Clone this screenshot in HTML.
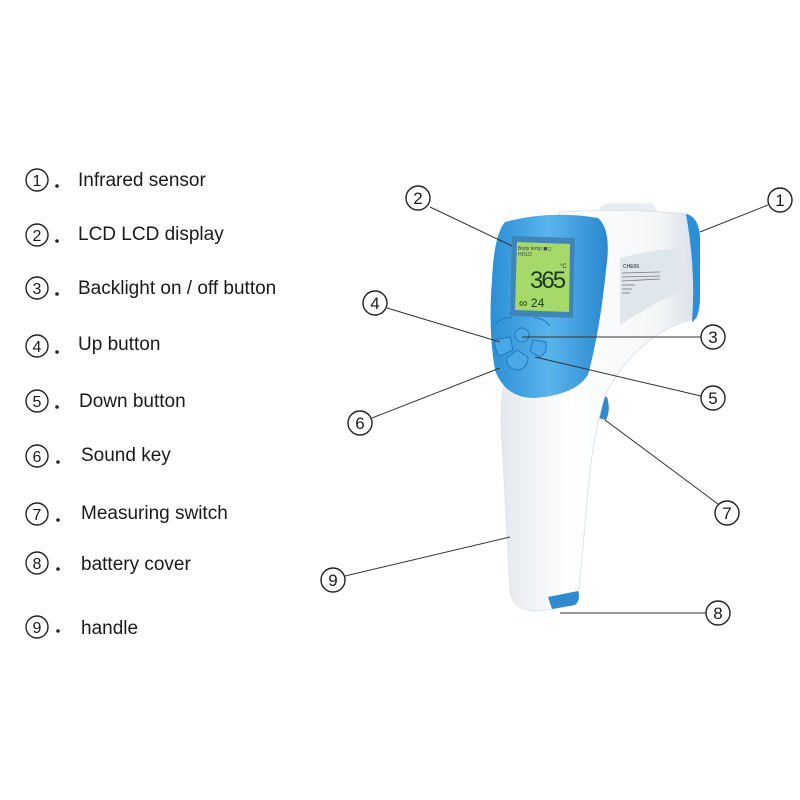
<!DOCTYPE html>
<html><head><meta charset="utf-8"><style>
html,body{margin:0;padding:0;background:#fff;width:800px;height:800px;overflow:hidden}
svg{display:block}
text{font-family:"Liberation Sans",Arial,sans-serif;fill:#1a1a1a}
</style></head><body>
<svg width="800" height="800" viewBox="0 0 800 800" xmlns="http://www.w3.org/2000/svg">
<defs>
<linearGradient id="bl" x1="0" x2="1"><stop offset="0" stop-color="#2a8fd6"/><stop offset="0.5" stop-color="#5ab4ec"/><stop offset="1" stop-color="#2a88d0"/></linearGradient>
<linearGradient id="wh" x1="0" x2="1"><stop offset="0" stop-color="#e4e9ee"/><stop offset="0.35" stop-color="#ffffff"/><stop offset="0.8" stop-color="#f4f6f8"/><stop offset="1" stop-color="#d8dfe6"/></linearGradient>
</defs>
<g font-size="19">
<g stroke="#222" stroke-width="1.4" fill="none">
<circle cx="37" cy="180" r="11"/><circle cx="37" cy="235" r="11"/><circle cx="37" cy="288" r="11"/>
<circle cx="37" cy="346" r="11"/><circle cx="37" cy="401" r="11"/><circle cx="37" cy="456" r="11"/>
<circle cx="37" cy="514" r="11"/><circle cx="37" cy="563" r="11"/><circle cx="37" cy="627" r="11"/>
</g>
<g font-size="16" text-anchor="middle">
<text x="37" y="186">1</text><text x="37" y="241">2</text><text x="37" y="294">3</text>
<text x="37" y="352">4</text><text x="37" y="407">5</text><text x="37" y="462">6</text>
<text x="37" y="520">7</text><text x="37" y="569">8</text><text x="37" y="633">9</text>
</g>
<g fill="#222"><circle cx="57" cy="186" r="1.8"/><circle cx="57" cy="241" r="1.8"/><circle cx="57" cy="294" r="1.8"/><circle cx="57" cy="352" r="1.8"/><circle cx="57" cy="407" r="1.8"/><circle cx="58" cy="462" r="1.8"/><circle cx="58" cy="520" r="1.8"/><circle cx="58" cy="569" r="1.8"/><circle cx="58" cy="631" r="1.8"/></g>
<text x="78" y="186">Infrared sensor</text>
<text x="78" y="240">LCD LCD display</text>
<text x="78" y="294">Backlight on / off button</text>
<text x="78" y="350">Up button</text>
<text x="79" y="407">Down button</text>
<text x="81" y="461">Sound key</text>
<text x="81" y="519">Measuring switch</text>
<text x="81" y="570">battery cover</text>
<text x="81" y="634">handle</text>
</g>

<path d="M598 212 Q600 203 612 203 L648 203 Q656 204 658 214 Z" fill="#e8edf1"/>
<path d="M598 395 L607 397 Q611 410 606 420 L598 418 Z" fill="#2f8ad0"/>
<path d="M560 212 Q630 208 688 214 L698 318 Q640 330 605 395 Q592 440 587 500 Q582 560 578 596 Q568 610 535 611 Q512 610 510 590 Q506 520 502 440 Q498 400 510 360 Z" fill="url(#wh)" stroke="#dde3e9" stroke-width="1"/>
<path d="M548 597 L578 591 Q581 600 575 605 L552 609 Z" fill="#2f8ad0"/>
<path d="M686 214 Q698 216 700 236 L700 300 Q699 318 692 322 Q696 270 686 214 Z" fill="#2a8fd6"/>
<path d="M620 258 Q650 250 682 248 L683 290 Q650 305 620 325 Z" fill="#dfe6ec"/>
<g fill="#555" font-size="5"><text x="623" y="268">CHE06</text></g>
<g stroke="#777" stroke-width="0.8"><line x1="622" y1="273" x2="660" y2="272"/><line x1="622" y1="277" x2="660" y2="276"/><line x1="622" y1="281" x2="660" y2="279"/><line x1="622" y1="285" x2="635" y2="285"/><line x1="622" y1="289" x2="632" y2="289"/><line x1="622" y1="293" x2="630" y2="293"/></g>
<path d="M505 222 Q550 210 598 218 Q612 230 606 270 Q600 330 588 375 Q575 395 535 398 Q505 398 495 370 Q488 330 492 280 Q494 235 505 222 Z" fill="url(#bl)"/>
<path d="M512 236 L575 238 L573 318 L510 316 Z" fill="#3f86b8"/>
<path d="M517 242 L570 244 L569 312 L515 310 Z" fill="#a6d86a"/>
<text x="518" y="250" font-size="5" style="fill:#345">Body temp ◼◻</text>
<text x="518" y="256" font-size="5" style="fill:#345">HOLD</text>
<text x="530" y="288" font-size="24" style="fill:#1c3a1c;letter-spacing:-2px">365</text>
<text x="560" y="268" font-size="6" style="fill:#1c3a1c">°C</text>
<text x="519" y="307" font-size="12" style="fill:#1c3a1c">∞ 24</text>
<g fill="#4aa8e6" stroke="#1f78bf" stroke-width="1">
<circle cx="522" cy="335" r="7"/>
<path d="M495 340 L510 337 L513 350 L500 356 Q494 350 495 340 Z"/>
<path d="M533 340 L546 342 Q548 352 540 357 L530 351 Z"/>
<path d="M507 358 L517 350 L528 357 Q528 368 518 370 Q506 369 507 358 Z"/>
</g>
<path d="M496 323 Q505 316 512 318 M534 318 Q544 318 550 326" stroke="#1f78bf" fill="none"/>

<g stroke="#333" stroke-width="1" fill="none">
<line x1="700" y1="232" x2="768" y2="205"/>
<line x1="430" y1="207" x2="512" y2="246"/>
<line x1="522" y1="337" x2="701" y2="337"/>
<line x1="387" y1="308" x2="500" y2="342"/>
<line x1="535" y1="357" x2="701" y2="396"/>
<line x1="372" y1="418" x2="500" y2="368"/>
<line x1="605" y1="420" x2="718" y2="504"/>
<line x1="560" y1="613" x2="706" y2="613"/>
<line x1="345" y1="576" x2="510" y2="537"/>
</g>
<g stroke="#222" stroke-width="1.4" fill="#fff">
<circle cx="780" cy="200" r="12"/><circle cx="418" cy="198" r="12"/><circle cx="713" cy="337" r="12"/>
<circle cx="375" cy="303" r="12"/><circle cx="713" cy="398" r="12"/><circle cx="360" cy="423" r="12"/>
<circle cx="727" cy="513" r="12"/><circle cx="718" cy="613" r="12"/><circle cx="333" cy="580" r="12"/>
</g>
<g font-size="17" text-anchor="middle">
<text x="780" y="206">1</text><text x="418" y="204">2</text><text x="713" y="343">3</text>
<text x="375" y="309">4</text><text x="713" y="404">5</text><text x="360" y="429">6</text>
<text x="727" y="519">7</text><text x="718" y="619">8</text><text x="333" y="586">9</text>
</g>
</svg>
</body></html>
